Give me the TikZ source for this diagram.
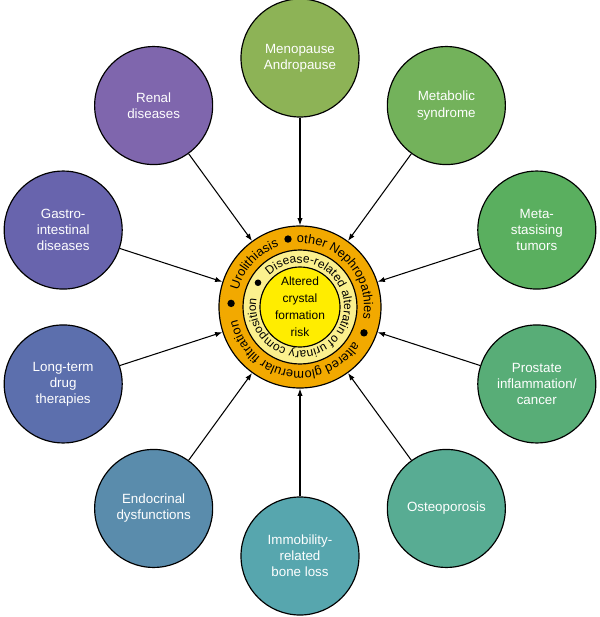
\documentclass[tikz,border=0pt]{standalone}
\usepackage{fontspec}
\setmainfont{Liberation Sans}
\usetikzlibrary{arrows.meta,decorations.text}
\definecolor{ringout}{HTML}{F2A900}
\definecolor{ringmid}{HTML}{FBF08E}
\definecolor{ringcore}{HTML}{FFED00}
\definecolor{cmeno}{HTML}{8DB356}
\definecolor{cmetab}{HTML}{73B25B}
\definecolor{ctumor}{HTML}{5AAF5F}
\definecolor{cprost}{HTML}{58AD77}
\definecolor{costeo}{HTML}{58AC93}
\definecolor{cimmob}{HTML}{57A6AE}
\definecolor{cendo}{HTML}{5A8CAC}
\definecolor{cdrug}{HTML}{5C6FAD}
\definecolor{cgastro}{HTML}{6864AD}
\definecolor{crenal}{HTML}{7F66AD}
\newcommand{\ringfont}{\fontsize{10.9}{13}\selectfont}
\newcommand{\innerfont}{\fontsize{10.2}{12}\selectfont}

\begin{document}
\begin{tikzpicture}[x=0.03cm, y=0.03cm,
  cause/.style={circle, draw, line width=1pt, minimum size=3.54cm, inner sep=0pt,
                align=center, text=white, font=\fontsize{11.4}{13.7}\selectfont},
  disc/.style={circle, draw, line width=1pt, inner sep=0pt},
  arrow/.style={line width=0.9pt, -{Latex[length=2.2mm,width=1.6mm]}},
  ringtext/.style={decorate, decoration={text along path, text align=center, text={#1}}},
]
\useasboundingbox (-300,-310) rectangle (300,307);

\node[disc, fill=ringout, minimum size=4.86cm] (ring) at (0,0) {};
\node[disc, fill=ringmid, minimum size=3.42cm] (mid) at (0,0) {};
\node[disc, fill=ringcore, minimum size=2.4cm, align=center,
      font=\fontsize{10.2}{14.5}\selectfont] (core) at (0,0) {Altered\\crystal\\formation\\risk};

\path[ringtext={|\ringfont|Urolithiasis}] (177:64) arc[start angle=177, end angle=97, radius=64];
\path[ringtext={|\ringfont|other Nephropathies}] (100:64) arc[start angle=100, end angle=-18, radius=64];
\path[ringtext={|\ringfont|altered glomerular filtration}] (-25:64) arc[start angle=-25, end angle=-176, radius=64];
\path[ringtext={|\innerfont|Disease-related alteratin of urinary composition}] (150:44) arc[start angle=150, end angle=-207, radius=44];
\fill (100:69) circle[radius=3.7];
\fill (-22:69) circle[radius=3.7];
\fill (177:69) circle[radius=3.7];
\fill (150:48.5) circle[radius=3.3];

\node[cause, fill=cmeno] (meno) at (90:249) {Menopause\\Andropause};
\node[cause, fill=cmetab] (metab) at (54:249) {Metabolic\\syndrome};
\node[cause, fill=ctumor] (tumor) at (18:249) {Meta-\\stasising\\tumors};
\node[cause, fill=cprost] (prost) at (-18:249) {Prostate\\inflammation/\\cancer};
\node[cause, fill=costeo] (osteo) at (-54:249) {Osteoporosis};
\node[cause, fill=cimmob] (immob) at (-90:249) {Immobility-\\related\\bone loss};
\node[cause, fill=cendo] (endo) at (-126:249) {Endocrinal\\dysfunctions};
\node[cause, fill=cdrug] (drug) at (-162:249) {Long-term\\drug\\therapies};
\node[cause, fill=cgastro] (gastro) at (162:249) {Gastro-\\intestinal\\diseases};
\node[cause, fill=crenal] (renal) at (126:249) {Renal\\diseases};

\draw[arrow] (meno) -- (ring);
\draw[arrow] (metab) -- (ring);
\draw[arrow] (tumor) -- (ring);
\draw[arrow] (prost) -- (ring);
\draw[arrow] (osteo) -- (ring);
\draw[arrow] (immob) -- (ring);
\draw[arrow] (endo) -- (ring);
\draw[arrow] (drug) -- (ring);
\draw[arrow] (gastro) -- (ring);
\draw[arrow] (renal) -- (ring);

\end{tikzpicture}
\end{document}
